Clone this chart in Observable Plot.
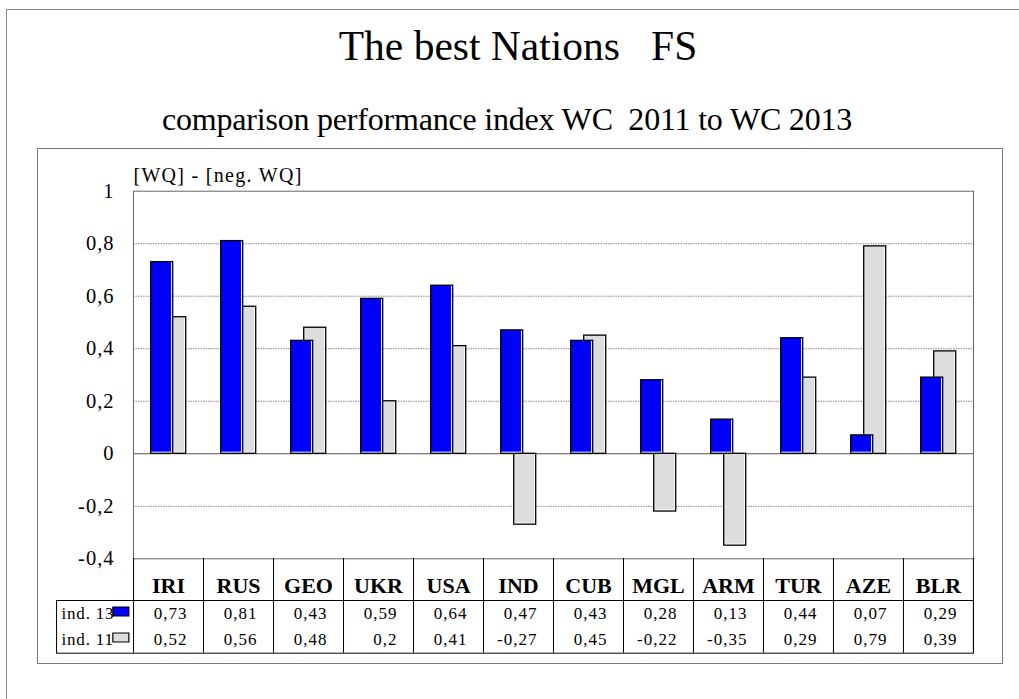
<!DOCTYPE html>
<html><head><meta charset="utf-8">
<script src="https://cdn.jsdelivr.net/npm/d3@7"></script>
<script src="https://cdn.jsdelivr.net/npm/@observablehq/plot@0.6"></script>
<style>
html,body{margin:0;padding:0;background:#fff;}
body{width:1019px;height:699px;overflow:hidden;position:relative;font-family:"Liberation Serif",Tinos,"Times New Roman",Times,serif;color:#000;}
.abs{position:absolute;}
#outer{left:6px;top:9px;width:1040px;height:720px;border:1.5px solid #888;}
#inner{left:37px;top:148px;width:964px;height:514px;border:1px solid #777;}
#title{left:0;top:26px;width:1036px;text-align:center;font-size:41.5px;line-height:41.5px;white-space:pre;}
#subtitle{left:0;top:103px;width:1014px;text-align:center;font-size:32px;line-height:32px;white-space:pre;letter-spacing:-0.2px;}
#chart{left:0;top:149px;}
#table{left:0;top:558.3px;}
#chart svg, #table svg{overflow:visible;background:none !important;font-family:"Liberation Serif",Tinos,"Times New Roman",Times,serif !important;}
#chart svg text, #table svg text{font-family:"Liberation Serif",Tinos,"Times New Roman",Times,serif !important;}
#chart svg g[aria-label="y-axis tick label"]{font-size:20.5px;letter-spacing:1px;}
</style>
</head><body>
<div id="outer" class="abs"></div>
<div id="inner" class="abs"></div>
<div id="title" class="abs"></div>
<div id="subtitle" class="abs"></div>
<div id="chart" class="abs"></div>
<div id="table" class="abs"></div>
<script>
// ---- data ----
const nations = ["IRI","RUS","GEO","UKR","USA","IND","CUB","MGL","ARM","TUR","AZE","BLR"];
const ind13 = [0.73,0.81,0.43,0.59,0.64,0.47,0.43,0.28,0.13,0.44,0.07,0.29];
const ind11 = [0.52,0.56,0.48,0.2,0.41,-0.27,0.45,-0.22,-0.35,0.29,0.79,0.39];
const yTicks = [1,0.8,0.6,0.4,0.2,0,-0.2,-0.4];
const gridTicks = [0.8,0.6,0.4,0.2,-0.2];
const rowLabels = ["ind. 13","ind. 11"];
const colors = ["#0000ff","#dddddd"];
const titleText = "The best Nations   FS";
const subtitleText = "comparison performance index WC  2011 to WC 2013";
const yLabel = "[WQ] - [neg. WQ]";

document.getElementById("title").textContent = titleText;
document.getElementById("subtitle").textContent = subtitleText;

const data = nations.map((n,i)=>({nation:n, ind13:ind13[i], ind11:ind11[i]}));
const fmt = v => String(v).replace(".", ",");
const W = 1019;
const FONT = "'Liberation Serif', Tinos, 'Times New Roman', Times, serif";
const xOpts = {type:"band", domain:nations, padding:0, axis:null};
const baseStyle = {background:"none", overflow:"visible", fontFamily: FONT, color:"black"};

function barLayers(key, fill, insetLeft, insetRight) {
  return [
    Plot.barY(data, {x:"nation", y:key, fill:"white", insetLeft, insetRight}),
    Plot.barY(data, {x:"nation", y:key, fill, insetLeft, insetRight: insetRight + 1.6, insetBottom: 1.6}),
    Plot.barY(data, {x:"nation", y:key, fill:"none", stroke:"black", strokeWidth:1.3, insetLeft, insetRight})
  ];
}

const chart = Plot.plot({
  width: W, height: 410.3,
  marginLeft: 133, marginRight: 46, marginTop: 41.7, marginBottom: 1,
  style: {...baseStyle, fontSize: "20px"},
  x: xOpts,
  y: {domain: [-0.4, 1]},
  marks: [
    Plot.ruleY(gridTicks, {stroke:"#888", strokeDasharray:"1.5,1"}),
    Plot.ruleY([0], {stroke:"#555", strokeWidth:1.2}),
    ...barLayers("ind11", colors[1], 30.7, 17.3),
    ...barLayers("ind13", colors[0], 17.7, 30.3),
    Plot.frame({stroke:"#666"}),
    Plot.axisY({ticks: yTicks, tickSize: 0, tickPadding: 19, tickFormat: fmt, label: null, fontSize: 20.5}),
    Plot.text([yLabel], {frameAnchor:"top-left", textAnchor:"start", lineAnchor:"bottom", dy:-9.5, fontSize:20})
  ]
});
document.getElementById("chart").appendChild(chart);
d3.select(chart).selectAll('g[aria-label="text"]').style("letter-spacing", "1.3px");

const long = [];
data.forEach(d => {
  long.push({nation:d.nation, row:rowLabels[0], value:d.ind13});
  long.push({nation:d.nation, row:rowLabels[1], value:d.ind11});
});
const swatch = {draw(ctx){ ctx.rect(-8, -4.5, 16, 9); }};

const table = Plot.plot({
  width: W, height: 42 + 52.7 + 1,
  marginLeft: 133, marginRight: 46, marginTop: 42, marginBottom: 1,
  style: {...baseStyle, fontSize: "17px"},
  x: xOpts,
  y: {type:"band", domain: rowLabels, padding: 0, axis: null},
  color: {type: "identity"},
  marks: [
    Plot.frame({stroke:"black", insetLeft:-77}),
    Plot.ruleX(nations, {x:d=>d, dx:-35, insetTop:-42, stroke:"black"}),
    Plot.ruleX([nations[nations.length-1]], {x:d=>d, dx:35, insetTop:-42, stroke:"black"}),
    Plot.text(nations, {x:d=>d, frameAnchor:"top", dy:-14.7, lineAnchor:"middle", fontWeight:"bold", fontSize:22}),
    Plot.text(long, {x:"nation", y:"row", text:d=>fmt(d.value), textAnchor:"end", dx:19, fontSize:17}),
    Plot.text(rowLabels, {y:d=>d, frameAnchor:"left", textAnchor:"start", dx:-72, fontSize:17}),
    Plot.dot(rowLabels, {y:d=>d, frameAnchor:"left", dx:-12.7, dy:-2, symbol: swatch, fill: d => colors[rowLabels.indexOf(d)], stroke:"black", strokeWidth:1.2})
  ]
});
document.getElementById("table").appendChild(table);
const tableTexts = d3.select(table).selectAll('g[aria-label="text"]').nodes();
const spacings = ["0px", "1px", "0.8px"];
tableTexts.forEach((g, i) => { g.style.letterSpacing = spacings[i] || "0px"; });
</script>
</body></html>
